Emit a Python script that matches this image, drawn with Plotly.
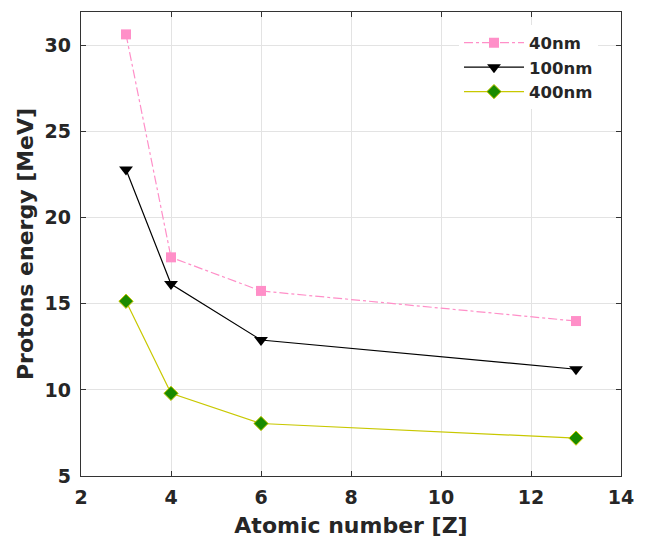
import plotly.graph_objects as go

atomic_number = [3, 4, 6, 13]
energy_40nm = [30.65, 17.7, 15.75, 14.0]
energy_100nm = [22.8, 16.15, 12.9, 11.2]
energy_400nm = [15.15, 9.8, 8.05, 7.2]

font_family = "DejaVu Sans"
text_color = "#262626"

fig = go.Figure()
fig.add_trace(go.Scatter(
    x=atomic_number, y=energy_40nm, name="40nm", mode="lines+markers",
    line=dict(color="#ff8fc8", width=1.2, dash="dashdot"),
    marker=dict(symbol="square", size=10, color="#ff8fc8"),
))
fig.add_trace(go.Scatter(
    x=atomic_number, y=energy_100nm, name="100nm", mode="lines+markers",
    line=dict(color="black", width=1.2),
    marker=dict(symbol="triangle-down", size=12, color="black"),
))
fig.add_trace(go.Scatter(
    x=atomic_number, y=energy_400nm, name="400nm", mode="lines+markers",
    line=dict(color="#c8c800", width=1.2),
    marker=dict(symbol="diamond", size=11, color="#1a8a00",
                line=dict(color="#c8c800", width=1)),
))

axis_common = dict(
    showgrid=True, gridcolor="#e3e3e3", gridwidth=1,
    showline=True, linecolor="#333333", linewidth=1.3, mirror="ticks",
    ticks="inside", ticklen=5, tickcolor="#333333",
    zeroline=False, automargin=False,
    tickfont=dict(family=font_family, size=19, color=text_color, weight="bold"),
)

fig.update_layout(
    width=646, height=539,
    margin=dict(l=81, r=25, t=12, b=63),
    paper_bgcolor="white", plot_bgcolor="white",
    font=dict(family=font_family),
    xaxis=dict(range=[2, 14], tickvals=[2, 4, 6, 8, 10, 12, 14],
               ticklabelstandoff=4,
               title=dict(text="Atomic number [Z]", standoff=10,
                          font=dict(family=font_family, size=22, color=text_color, weight="bold")),
               **axis_common),
    yaxis=dict(range=[5, 31.95], tickvals=[5, 10, 15, 20, 25, 30],
               ticklabelstandoff=5,
               title=dict(text="Protons energy [MeV]", standoff=4,
                          font=dict(family=font_family, size=22, color=text_color, weight="bold")),
               **axis_common),
    legend=dict(x=0.70, y=0.971, xanchor="left", yanchor="top",
                bgcolor="white", borderwidth=0,
                font=dict(family=font_family, size=16.5, color=text_color, weight="bold"),
                itemwidth=60, tracegroupgap=0),
    showlegend=True,
)

fig.write_html("out.html")
